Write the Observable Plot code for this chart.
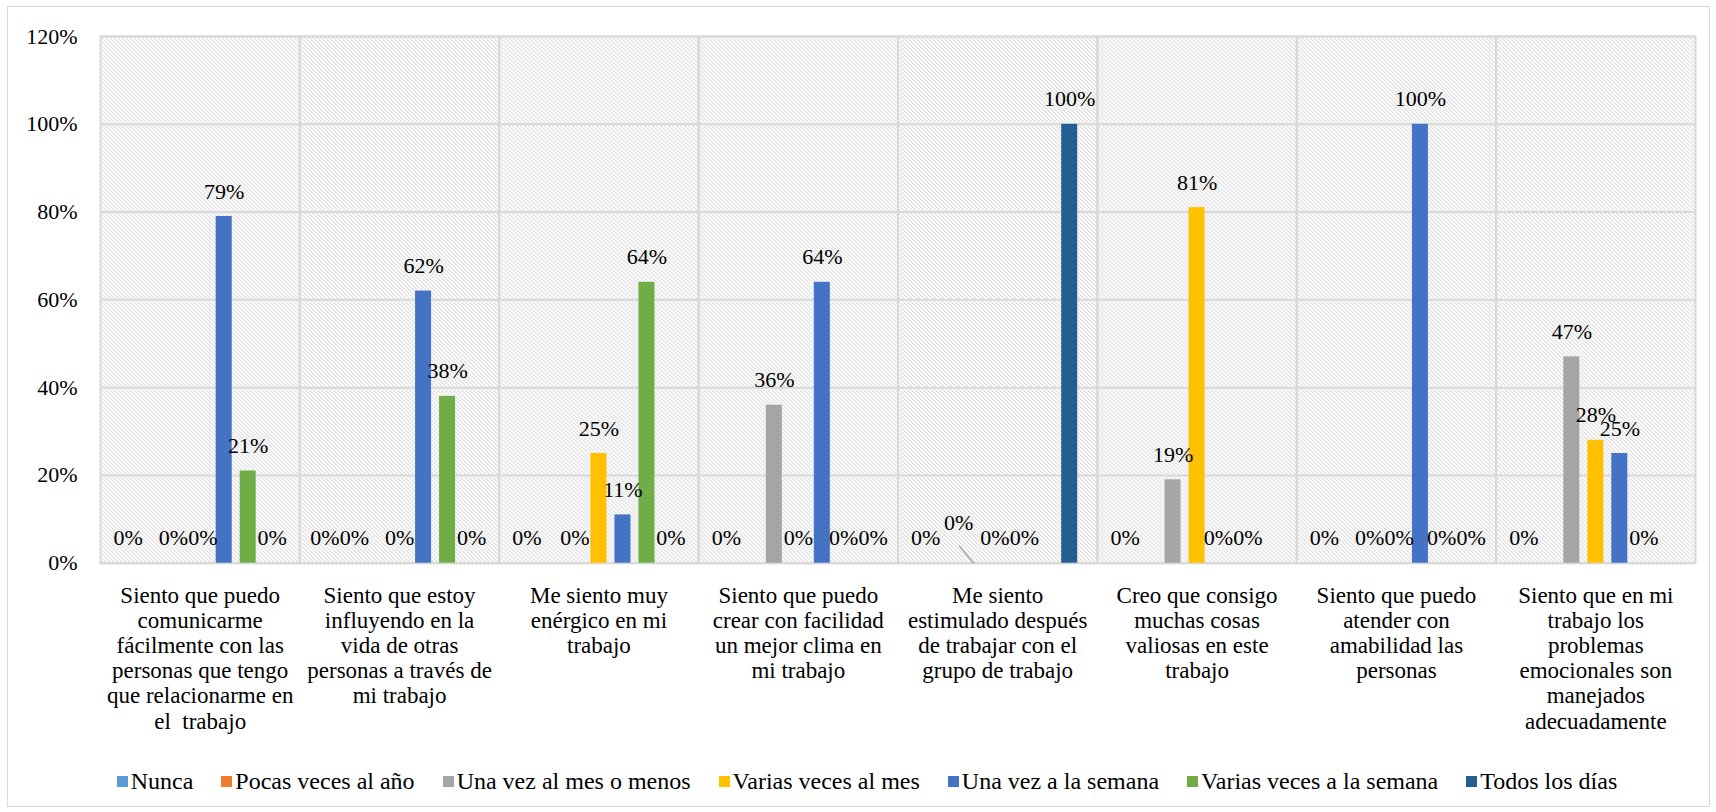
<!DOCTYPE html>
<html lang="es">
<head>
<meta charset="utf-8">
<script src="https://cdn.jsdelivr.net/npm/d3@7"></script>
<script src="https://cdn.jsdelivr.net/npm/@observablehq/plot@0.6"></script>
<style>
  html, body { margin: 0; padding: 0; background: #fff; }
  #chart { position: relative; width: 1716px; height: 812px; overflow: hidden;
           font-family: "Liberation Serif", "Times New Roman", Tinos, "DejaVu Serif", serif; color: #000; }
  #border { position: absolute; left: 7px; top: 6px; width: 1701px; height: 799px;
            border: 1.5px solid #d9d9d9; pointer-events: none; }
  #legend { position: absolute; left: 0; top: 768px; width: 1716px; display: flex;
            justify-content: center; gap: 28px; font-size: 24px; line-height: 26px;
            padding-left: 18px; box-sizing: border-box; }
  .item { display: flex; align-items: center; white-space: nowrap; }
  .sw { width: 11px; height: 11px; margin-right: 3px; flex: none; }
</style>
</head>
<body>
<div id="chart"><div id="border"></div></div>
<script>
// Survey statements (x categories)
const categories = [
  "Siento que puedo\ncomunicarme\nfácilmente con las\npersonas que tengo\nque relacionarme en\nel  trabajo",
  "Siento que estoy\ninfluyendo en la\nvida de otras\npersonas a través de\nmi trabajo",
  "Me siento muy\nenérgico en mi\ntrabajo",
  "Siento que puedo\ncrear con facilidad\nun mejor clima en\nmi trabajo",
  "Me siento\nestimulado después\nde trabajar con el\ngrupo de trabajo",
  "Creo que consigo\nmuchas cosas\nvaliosas en este\ntrabajo",
  "Siento que puedo\natender con\namabilidad las\npersonas",
  "Siento que en mi\ntrabajo los\nproblemas\nemocionales son\nmanejados\nadecuadamente"
];

// Answer frequencies (series)
const series = [
  "Nunca",
  "Pocas veces al año",
  "Una vez al mes o menos",
  "Varias veces al mes",
  "Una vez a la semana",
  "Varias veces a la semana",
  "Todos los días"
];
const seriesColors = ["#5B9BD5", "#ED7D31", "#A5A5A5", "#FFC000", "#4472C4", "#70AD47", "#255E91"];

// Percentages per statement; null = no value shown
const nunca             = [0, 0, 0, 0, 0, 0, 0, 0];
const pocasVecesAnio    = [null, 0, null, null, null, null, null, null];
const unaVezMes         = [0, null, 0, 36, 0, 19, 0, 47];
const variasVecesMes    = [0, 0, 25, 0, 0, 81, 0, 28];
const unaVezSemana      = [79, 62, 11, 64, 0, 0, 100, 25];
const variasVecesSemana = [21, 38, 64, 0, null, 0, 0, 0];
const todosLosDias      = [0, 0, 0, 0, 100, null, 0, null];

const yTicks = [0, 20, 40, 60, 80, 100, 120];

const seriesValues = [nunca, pocasVecesAnio, unaVezMes, variasVecesMes, unaVezSemana, variasVecesSemana, todosLosDias];

const rows = [];
categories.forEach((category, i) => {
  series.forEach((s, k) => {
    const value = seriesValues[k][i];
    if (value !== null) rows.push({category, series: s, value});
  });
});

// One label sits raised beside its bar, tied back with a leader line
const isRaised = d => d.category === categories[4] && d.series === series[2];

const font = '"Liberation Serif", "Times New Roman", Tinos, "DejaVu Serif", serif';

const leader = {
  draw(context, length) {
    context.moveTo(0, 0);
    context.lineTo(0, -length);
  }
};

// Push apart value labels that share a baseline and would overlap
function spreadLabels(index, scales, values, dimensions, context, next) {
  const X = values.x && Array.from(values.x);
  const Y = values.y;
  if (X && Y) {
    const minGap = 29.5;
    const idx = Array.from(index).sort((a, b) => X[a] - X[b]);
    for (let pass = 0; pass < 30; ++pass) {
      let moved = false;
      for (let j = 1; j < idx.length; ++j) {
        const a = idx[j - 1], b = idx[j];
        if (Math.abs(Y[a] - Y[b]) > 12) continue;
        const d = X[b] - X[a];
        if (d < minGap - 0.01) {
          const s = (minGap - d) / 2;
          X[a] -= s; X[b] += s; moved = true;
        }
      }
      if (!moved) break;
    }
    values = {...values, x: X};
  }
  return next(index, scales, values, dimensions, context);
}

const plot = Plot.plot({
  width: 1716,
  height: 766,
  marginLeft: 100,
  marginRight: 21,
  marginTop: 36,
  marginBottom: 203.3,
  style: {fontFamily: font, color: "#000", background: "transparent", overflow: "visible"},
  fx: {domain: categories, padding: 0, round: false, axis: null},
  x: {domain: series, paddingInner: 1 / 3, paddingOuter: 0.82, round: false, axis: null},
  y: {domain: [0, 120]},
  color: {domain: series, range: seriesColors},
  marks: [
    Plot.frame({fill: "url(#hatch)", stroke: null}),
    Plot.gridY(yTicks, {stroke: "#d9d9d9", strokeOpacity: 1, strokeWidth: 2}),
    Plot.frame({stroke: "#d9d9d9", strokeWidth: 2}),
    Plot.axisY(yTicks, {
      tickSize: 0, tickPadding: 23, fontSize: 22, fill: "#000", label: null,
      tickFormat: d => d + "%", fontFamily: font
    }),
    Plot.barY(rows.filter(d => d.value > 0), {fx: "category", x: "series", y: "value", fill: "series"}),
    Plot.text(rows.filter(d => !isRaised(d)), {
      fx: "category", x: "series", y: "value",
      text: d => d.value + "%", dy: -25, fontSize: 22, fill: "#000", fontFamily: font,
      render: spreadLabels
    }),
    Plot.text(rows.filter(isRaised), {
      fx: "category", x: "series", y: "value",
      text: d => d.value + "%", dx: -15, dy: -40.5, fontSize: 22, fill: "#000", fontFamily: font
    }),
    Plot.vector(rows.filter(isRaised), {
      fx: "category", x: "series", y: "value",
      anchor: "start", length: 22, rotate: -40, shape: leader,
      stroke: "#a6a6a6", strokeWidth: 1.5
    }),
    Plot.text(categories, {
      fx: d => d, text: d => d, frameAnchor: "bottom", lineAnchor: "top",
      dy: 21.5, fontSize: 23, lineHeight: 25.2 / 23, fill: "#000", fontFamily: font
    })
  ]
});

// Diagonal hatch used as the plot background
const defs = d3.create("svg:defs");
const pattern = defs.append("pattern")
  .attr("id", "hatch")
  .attr("patternUnits", "userSpaceOnUse")
  .attr("width", 4)
  .attr("height", 4);
pattern.append("rect").attr("width", 4).attr("height", 4).attr("fill", "#fff");
pattern.append("path")
  .attr("d", "M-1,-1L5,5M3,-1L5,1M-1,3L1,5")
  .attr("stroke", "#c8c8c8")
  .attr("stroke-width", 1);
plot.insertBefore(defs.node(), plot.firstChild);

const chart = document.getElementById("chart");
chart.insertBefore(plot, chart.firstChild);

// Legend
const legend = d3.select(chart).append("div").attr("id", "legend");
series.forEach((s, k) => {
  const item = legend.append("div").attr("class", "item");
  item.append("span").attr("class", "sw").style("background", seriesColors[k]);
  item.append("span").text(s);
});
</script>
</body>
</html>
